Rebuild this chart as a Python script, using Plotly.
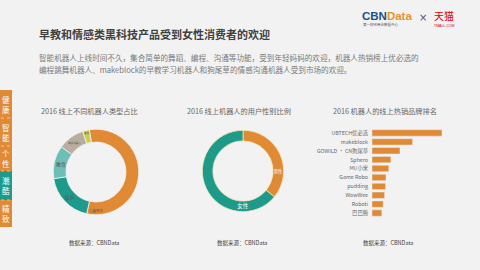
import plotly.graph_objects as go

# ---------------- data ----------------
type_labels = ["儿童陪伴", "娱乐", "教育", "家庭机器人", "其他"]
type_values = [56, 19, 12.5, 10, 2.5]
type_colors = ["#E08A35", "#1E9A8B", "#6DBFB6", "#B8AD9E", "#C9D04A"]

gender_labels = ["男性", "女性"]
gender_values = [36, 64]
gender_colors = ["#E08A35", "#1E9A8B"]

brand_labels = ["UBTECH优必选", "makeblock", "GOWILD · CN狗尾草", "Sphero", "MI/小米",
                "Game Robo", "pudding", "WowWee", "Roboti", "巴巴腾"]
brand_values = [100, 58, 40, 27, 24, 20, 19.5, 18, 16, 14]

side_tabs = ["健<br>康", "智<br>能", "个<br>性", "潮<br>酷", "精<br>致"]
side_colors = ["#E08A35", "#E08A35", "#E08A35", "#1E9A8B", "#E08A35"]

BG = "#F2F2F2"
FONT = "Noto Sans CJK SC"


def dom(cx, cy, r, k=1.07):
    r = r * k
    return dict(x=[(cx - r) / 480, (cx + r) / 480], y=[1 - (cy + r) / 270, 1 - (cy - r) / 270])


fig = go.Figure()

fig.add_trace(go.Pie(
    labels=type_labels, values=type_values, hole=0.7, sort=False,
    direction="clockwise", rotation=-9,
    marker=dict(colors=type_colors, line=dict(color="#F2F2F2", width=0.8)),
    textinfo="label", textposition="inside", insidetextorientation="horizontal",
    textfont=dict(size=5, color="#555555", family=FONT),
    domain=dom(96, 172, 40),
    showlegend=False, hoverinfo="label+percent",
))

fig.add_trace(go.Pie(
    labels=gender_labels, values=gender_values, hole=0.74, sort=False,
    direction="clockwise", rotation=0,
    marker=dict(colors=gender_colors, line=dict(color="#F4E9B0", width=0.8)),
    textinfo="label", textposition="inside", insidetextorientation="horizontal",
    textfont=dict(size=5.5, color="#FFFFFF", family=FONT),
    domain=dom(243, 171, 38),
    showlegend=False, hoverinfo="label+percent",
))

fig.add_trace(go.Bar(
    x=brand_values, y=brand_labels, orientation="h",
    marker=dict(color="#E08A35"), width=0.72,
    xaxis="x", yaxis="y", showlegend=False,
))

fig.update_layout(
    width=480, height=270,
    margin=dict(l=0, r=0, t=0, b=0),
    paper_bgcolor=BG, plot_bgcolor=BG,
    font=dict(family=FONT, color="#555555"),
    xaxis=dict(domain=[372/480, 442/480], range=[0, 100], visible=False, fixedrange=True),
    yaxis=dict(domain=[1-217.5/270, 1-128.5/270], autorange="reversed",
               showgrid=False, zeroline=False, showline=False, ticks="",
               tickfont=dict(size=5.3, color="#666666", family=FONT), ticklabelstandoff=3),
)

ann = []
# title
ann.append(dict(x=37/480, y=1-34/270, xref="paper", yref="paper", xanchor="left", yanchor="middle",
                text="<b>早教和情感类黑科技产品受到女性消费者的欢迎</b>", showarrow=False,
                font=dict(size=11, color="#404040", family=FONT)))
ann.append(dict(x=37/480, y=1-58/270, xref="paper", yref="paper", xanchor="left", yanchor="middle",
                text="智能机器人上线时间不久，集合简单的舞蹈、编程、沟通等功能，受到年轻妈妈的欢迎，机器人热销榜上优必选的",
                showarrow=False, font=dict(size=7.6, color="#7A7A7A", family=FONT)))
ann.append(dict(x=37/480, y=1-69/270, xref="paper", yref="paper", xanchor="left", yanchor="middle",
                text="编程跳舞机器人、makeblock的早教学习机器人和狗尾草的情感沟通机器人受到市场的欢迎。",
                showarrow=False, font=dict(size=7.6, color="#7A7A7A", family=FONT)))
# chart titles
for cx, t in [(89, "2016 线上不同机器人类型占比"), (239, "2016 线上机器人的用户性别比例"),
              (385, "2016 机器人的线上热销品牌排名")]:
    ann.append(dict(x=cx/480, y=1-111/270, xref="paper", yref="paper", xanchor="center", yanchor="middle",
                    text=t, showarrow=False, font=dict(size=7.2, color="#666666", family=FONT)))
for cx in [94, 242, 388]:
    ann.append(dict(x=cx/480, y=1-243/270, xref="paper", yref="paper", xanchor="center", yanchor="middle",
                    text="数据来源：CBNData", showarrow=False, font=dict(size=5.5, color="#444444", family=FONT)))
# logo
ann.append(dict(x=360/480, y=1-16/270, xref="paper", yref="paper", xanchor="left", yanchor="middle",
                text="<b><span style='color:#1F4E8C'>CBN</span><span style='color:#E8912D'>Data</span></b>",
                showarrow=False, font=dict(size=11.5, family="Liberation Sans")))
ann.append(dict(x=361/480, y=1-24/270, xref="paper", yref="paper", xanchor="left", yanchor="middle",
                text="第一财经商业数据中心", showarrow=False, font=dict(size=3.5, color="#555555", family=FONT)))
ann.append(dict(x=423/480, y=1-17/270, xref="paper", yref="paper", xanchor="center", yanchor="middle",
                text="×", showarrow=False, font=dict(size=10, color="#555555", family="DejaVu Sans")))
ann.append(dict(x=444/480, y=1-15/270, xref="paper", yref="paper", xanchor="center", yanchor="middle",
                text="天猫", showarrow=False, font=dict(size=10, color="#D7000F", family=FONT)))
ann.append(dict(x=444/480, y=1-25.5/270, xref="paper", yref="paper", xanchor="center", yanchor="middle",
                text="TMALL.COM", showarrow=False, font=dict(size=3.5, color="#D7000F", family="Liberation Sans")))

# side tabs
shapes = []
tab_edges = [90, 118, 146, 171, 200, 227]
for i, (t, c) in enumerate(zip(side_tabs, side_colors)):
    y0, y1 = tab_edges[i], tab_edges[i + 1]
    shapes.append(dict(type="rect", xref="paper", yref="paper", x0=0, x1=12/480,
                       y0=1-y1/270, y1=1-y0/270, fillcolor=c, line=dict(width=0), layer="below"))
    ann.append(dict(x=6/480, y=1-(y0+y1)/2/270, xref="paper", yref="paper", xanchor="center", yanchor="middle",
                    text=t, showarrow=False, font=dict(size=7.5, color="#FFFFFF", family=FONT)))
    if i > 0:
        shapes.append(dict(type="line", xref="paper", yref="paper", x0=1/480, x1=11/480,
                           y0=1-y0/270, y1=1-y0/270, line=dict(color="#F6D2A8", width=0.8, dash="dot")))

fig.update_layout(annotations=ann, shapes=shapes)
fig.write_html("out.html")
